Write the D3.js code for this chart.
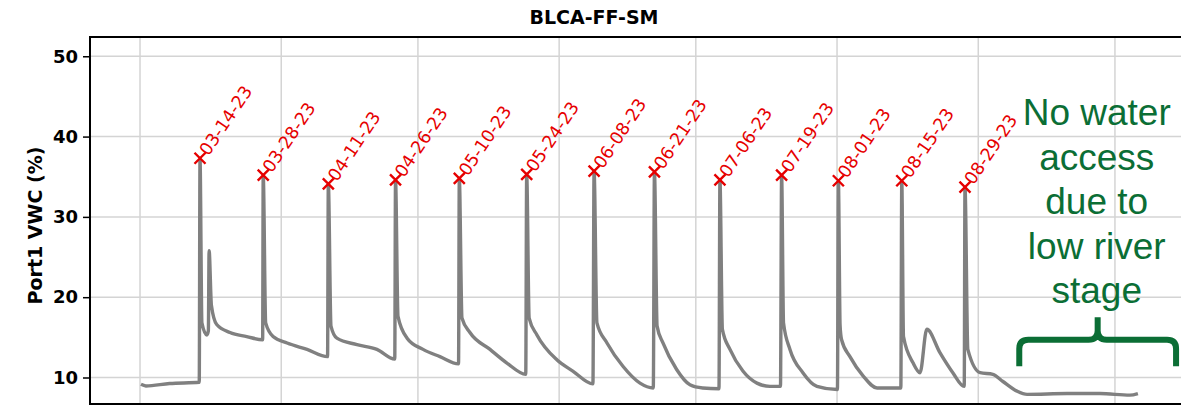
<!DOCTYPE html>
<html>
<head>
<meta charset="utf-8">
<script src="https://cdn.jsdelivr.net/npm/d3@7/dist/d3.min.js"></script>
<style>
  body { margin: 0; background: #fff; }
  svg { display: block; font-family: 'DejaVu Sans', sans-serif; }
</style>
</head>
<body>
<svg id="chart" width="1181" height="405"></svg>
<script>

/* soil moisture series (Port1 VWC, %) */
const vwcTimes = [
    '2023-03-01 05:00', '2023-03-02 07:00', '2023-03-07 12:00', '2023-03-14 00:00',
    '2023-03-14 04:00', '2023-03-14 14:00', '2023-03-15 16:00', '2023-03-16 00:00',
    '2023-03-16 04:00', '2023-03-16 16:00', '2023-03-17 20:00', '2023-03-20 18:00',
    '2023-03-24 10:00', '2023-03-27 22:00',
    '2023-03-28 01:00', '2023-03-28 14:00', '2023-03-30 05:00', '2023-04-02 07:00',
    '2023-04-06 16:00', '2023-04-11 04:00',
    '2023-04-11 08:00', '2023-04-11 22:00', '2023-04-13 05:00', '2023-04-17 15:00',
    '2023-04-22 00:00', '2023-04-25 22:00',
    '2023-04-26 02:00', '2023-04-26 15:00', '2023-04-28 15:00', '2023-05-02 03:00',
    '2023-05-05 20:00', '2023-05-09 22:00',
    '2023-05-10 02:00', '2023-05-10 16:00', '2023-05-12 10:00', '2023-05-16 20:00',
    '2023-05-20 13:00', '2023-05-24 16:00',
    '2023-05-24 21:00', '2023-05-25 10:00', '2023-05-27 03:00', '2023-05-31 12:00',
    '2023-06-04 00:00', '2023-06-08 10:00',
    '2023-06-08 16:00', '2023-06-09 07:00', '2023-06-11 12:00', '2023-06-15 00:00',
    '2023-06-18 18:00', '2023-06-21 16:00',
    '2023-06-21 22:00', '2023-06-22 12:00', '2023-06-23 19:00', '2023-06-26 19:00',
    '2023-06-29 17:00', '2023-07-02 12:00', '2023-07-06 02:00',
    '2023-07-06 07:00', '2023-07-06 20:00', '2023-07-08 12:00', '2023-07-11 08:00',
    '2023-07-14 10:00', '2023-07-17 07:00', '2023-07-19 14:00',
    '2023-07-19 20:00', '2023-07-20 06:00', '2023-07-21 16:00', '2023-07-24 12:00',
    '2023-07-27 14:00', '2023-08-01 02:00',
    '2023-08-01 07:00', '2023-08-01 16:00', '2023-08-02 00:00', '2023-08-03 20:00',
    '2023-08-06 17:00', '2023-08-09 19:00', '2023-08-15 00:00',
    '2023-08-15 05:00', '2023-08-15 14:00', '2023-08-17 17:00', '2023-08-19 05:00',
    '2023-08-20 17:00', '2023-08-23 14:00', '2023-08-26 10:00', '2023-08-28 22:00',
    '2023-08-29 02:00', '2023-08-29 17:00', '2023-09-01 10:00', '2023-09-04 05:00',
    '2023-09-06 10:00', '2023-09-09 12:00', '2023-09-11 17:00', '2023-09-20 12:00',
    '2023-09-27 17:00', '2023-10-04 07:00', '2023-10-06 01:00'
];
const vwcValues = [
    9.15, 8.95, 9.25, 9.4,
    37.3, 16.8, 15.3, 15.8,
    25.8, 19.0, 16.6, 15.6,
    15.1, 14.7,
    35.2, 16.8, 15.1, 14.3,
    13.5, 12.6,
    34.1, 16.4, 14.9, 14.1,
    13.5, 12.3,
    34.6, 17.6, 14.9, 13.5,
    12.6, 11.7,
    34.8, 17.4, 15.6, 13.5,
    11.8, 10.4,
    35.3, 17.4, 15.3, 12.2,
    10.8, 9.2,
    35.7, 16.8, 14.3, 11.4,
    9.3, 8.7,
    35.6, 16.4, 14.3, 11.0,
    9.1, 8.7, 8.6,
    34.6, 16.0, 13.5, 10.8,
    9.3, 8.9, 8.9,
    35.2, 16.8, 13.5, 10.6,
    8.9, 8.5,
    34.5, 16.5, 14.7, 12.6,
    10.2, 8.7, 8.7,
    34.5, 15.1, 11.8, 10.6,
    16.0, 13.1, 10.6, 8.9,
    33.7, 13.5, 10.6, 10.4,
    9.5, 8.3, 7.9, 8.0,
    8.0, 7.8, 8.0
];

/* irrigation events (red markers) */
const fillTimes = [
    '2023-03-14 04:00', '2023-03-28 01:00', '2023-04-11 08:00', '2023-04-26 02:00',
    '2023-05-10 02:00', '2023-05-24 21:00', '2023-06-08 16:00', '2023-06-21 22:00',
    '2023-07-06 07:00', '2023-07-19 20:00', '2023-08-01 07:00', '2023-08-15 05:00',
    '2023-08-29 02:00'
];
const fillLabels = [
    '03-14-23', '03-28-23', '04-11-23', '04-26-23', '05-10-23', '05-24-23', '06-08-23',
    '06-21-23', '07-06-23', '07-19-23', '08-01-23', '08-15-23', '08-29-23'
];
const fillPeaks = [37.3, 35.2, 34.1, 34.6, 34.8, 35.3, 35.7, 35.6, 34.6, 35.2, 34.5, 34.5, 33.7];

const yTicks = [10, 20, 30, 40, 50];
const monthTicks = ['2023-03-01 00:00', '2023-04-01 00:00', '2023-05-01 00:00', '2023-06-01 00:00',
                    '2023-07-01 00:00', '2023-08-01 00:00', '2023-09-01 00:00', '2023-10-01 00:00'];
const xDomain = ['2023-02-18 00:30', '2023-10-15 12:00'];
const yDomain = [6.7, 52.4];

/* annotation for the dry period */
const noteLines = ['No water', 'access', 'due to', 'low river', 'stage'];
const noteCenter = '2023-09-27 00:00';
const noteTop = 41.4;
const braceSpan = ['2023-09-10 00:00', '2023-10-14 10:00'];
const braceLevels = [11.4, 14.7, 17.5];   // arm ends, bar, tip


const LEFT = 90, TOP = 37, RIGHT = 1181, BOTTOM = 404;
const GREEN = '#0b6e35', RED = '#e60000';
const parseTime = d3.timeParse('%Y-%m-%d %H:%M');

const svg = d3.select('#chart');
const x = d3.scaleTime().domain(xDomain.map(parseTime)).range([LEFT, RIGHT]);
const y = d3.scaleLinear().domain(yDomain).range([BOTTOM, TOP]);

/* grid */
svg.append('g')
    .selectAll('line')
    .data(yTicks)
    .join('line')
    .attr('x1', LEFT).attr('x2', RIGHT)
    .attr('y1', d => y(d)).attr('y2', d => y(d))
    .attr('stroke', '#d4d4d4').attr('stroke-width', 1.5);
svg.append('g')
    .selectAll('line')
    .data(monthTicks.map(parseTime))
    .join('line')
    .attr('x1', d => x(d)).attr('x2', d => x(d))
    .attr('y1', TOP).attr('y2', BOTTOM)
    .attr('stroke', '#d4d4d4').attr('stroke-width', 1.5);

/* the VWC line */
const series = vwcTimes.map((t, i) => ({t: parseTime(t), v: vwcValues[i]}));
svg.append('path')
    .datum(series)
    .attr('fill', 'none')
    .attr('stroke', '#808080')
    .attr('stroke-width', 3.4)
    .attr('stroke-linejoin', 'round')
    .attr('d', d3.line().x(d => x(d.t)).y(d => y(d.v)).curve(d3.curveMonotoneX));

/* y axis */
const yAxis = svg.append('g')
    .attr('transform', `translate(${LEFT},0)`)
    .call(d3.axisLeft(y).tickValues(yTicks).tickSize(7).tickPadding(5));
yAxis.select('.domain').remove();
yAxis.selectAll('.tick line').attr('stroke', '#000').attr('stroke-width', 1.5);
yAxis.selectAll('.tick text')
    .attr('fill', '#000')
    .style('font-size', '18px')
    .style('font-weight', 'bold')
    .style('font-family', 'DejaVu Sans');

/* spines (left, top, bottom) */
svg.append('path')
    .attr('d', `M${RIGHT},${TOP}H${LEFT}V${BOTTOM}H${RIGHT}`)
    .attr('fill', 'none')
    .attr('stroke', '#000')
    .attr('stroke-width', 2);

/* titles */
svg.append('text')
    .attr('x', 594).attr('y', 24)
    .attr('text-anchor', 'middle')
    .style('font-size', '19px').style('font-weight', 'bold')
    .text('BLCA-FF-SM');
svg.append('text')
    .attr('transform', `translate(42,${(y(yDomain[0]) + y(yDomain[1])) / 2 + 5}) rotate(-90)`)
    .attr('text-anchor', 'middle')
    .style('font-size', '19px').style('font-weight', 'bold')
    .text('Port1 VWC (%)');

/* irrigation markers and their dates */
const fills = svg.append('g')
    .selectAll('g')
    .data(fillTimes.map((t, i) => ({t: parseTime(t), v: fillPeaks[i], label: fillLabels[i]})))
    .join('g')
    .attr('transform', d => `translate(${x(d.t)},${y(d.v)})`);
fills.append('path')
    .attr('d', 'M-5.5,-5.5L5.5,5.5M-5.5,5.5L5.5,-5.5')
    .attr('stroke', RED)
    .attr('stroke-width', 2.4);
fills.append('text')
    .attr('transform', 'rotate(-56)')
    .attr('x', 6)
    .attr('dy', '0.36em')
    .attr('fill', RED)
    .style('font-size', '17.5px')
    .text(d => d.label);

/* "no water" note with its brace */
const note = svg.append('g').attr('fill', GREEN);
note.selectAll('text')
    .data(noteLines)
    .join('text')
    .attr('x', x(parseTime(noteCenter)))
    .attr('y', (d, i) => y(noteTop) + i * 44.5)
    .attr('text-anchor', 'middle')
    .style('font-family', "'Liberation Sans', Arial, sans-serif")
    .style('font-size', '37px')
    .text(d => d);

const bx1 = x(parseTime(braceSpan[0])), bx2 = x(parseTime(braceSpan[1]));
const bxc = (bx1 + bx2) / 2;
const yArm = y(braceLevels[0]), yBar = y(braceLevels[1]), yTip = y(braceLevels[2]);
const r = 9;
svg.append('path')
    .attr('d', `M${bx1},${yArm}V${yBar + r}Q${bx1},${yBar} ${bx1 + r},${yBar}` +
               `H${bxc - r}Q${bxc},${yBar} ${bxc},${yBar - r}V${yTip}` +
               `M${bx2},${yArm}V${yBar + r}Q${bx2},${yBar} ${bx2 - r},${yBar}` +
               `H${bxc + r}Q${bxc},${yBar} ${bxc},${yBar - r}`)
    .attr('fill', 'none')
    .attr('stroke', GREEN)
    .attr('stroke-width', 6);

</script>
</body>
</html>
